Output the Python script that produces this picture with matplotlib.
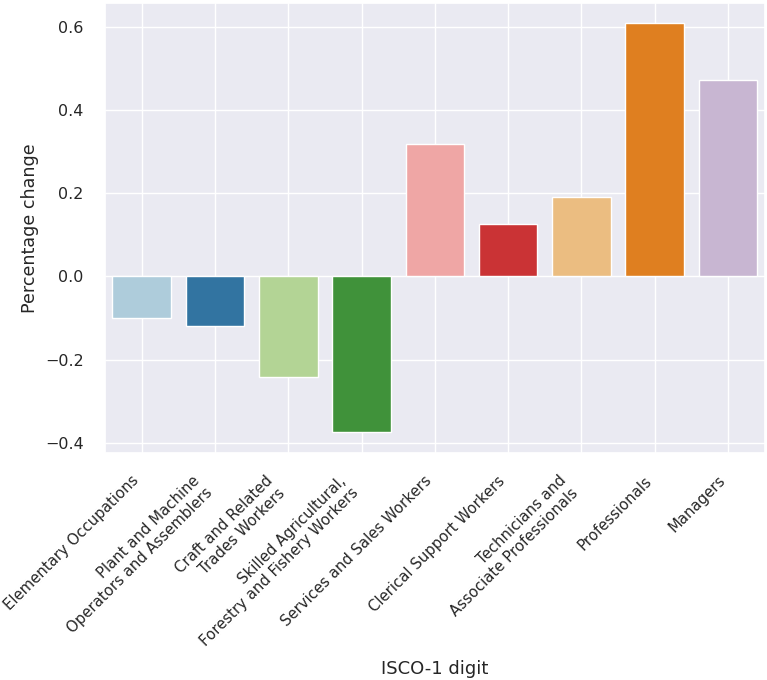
import matplotlib
matplotlib.use("Agg")
import matplotlib.pyplot as plt
import seaborn as sns
import pandas as pd

# ISCO-1 digit groups and their percentage change
occupations = [
    "Elementary Occupations",
    "Plant and Machine\nOperators and Assemblers",
    "Craft and Related\nTrades Workers",
    "Skilled Agricultural,\nForestry and Fishery Workers",
    "Services and Sales Workers",
    "Clerical Support Workers",
    "Technicians and\nAssociate Professionals",
    "Professionals",
    "Managers",
]
pct_change = [-0.100, -0.118, -0.241, -0.375, 0.318, 0.125, 0.191, 0.609, 0.472]

sns.set_theme(style="darkgrid")

df = pd.DataFrame({"ISCO-1 digit": occupations, "Percentage change": pct_change})

fig, ax = plt.subplots(figsize=(7.67, 6.8), dpi=100)
fig.subplots_adjust(left=0.137, right=0.997, top=0.996, bottom=0.334)

sns.barplot(data=df, x="ISCO-1 digit", y="Percentage change",
            hue="ISCO-1 digit", palette="Paired", legend=False, ax=ax)

ax.grid(True, axis="both")
ax.set_axisbelow(True)

ax.set_xticks(range(len(occupations)))
ax.set_xticklabels(occupations, rotation=45, ha="right", fontsize=10.7)
pad = plt.rcParams["ytick.major.pad"]
ax.tick_params(axis="y", labelsize=11.5, pad=pad + 6)
ax.tick_params(axis="x", pad=pad + 5)
ax.set_xlabel("ISCO-1 digit", fontsize=13, labelpad=8)
ax.set_ylabel("Percentage change", fontsize=12.6)

plt.savefig("out.png")
